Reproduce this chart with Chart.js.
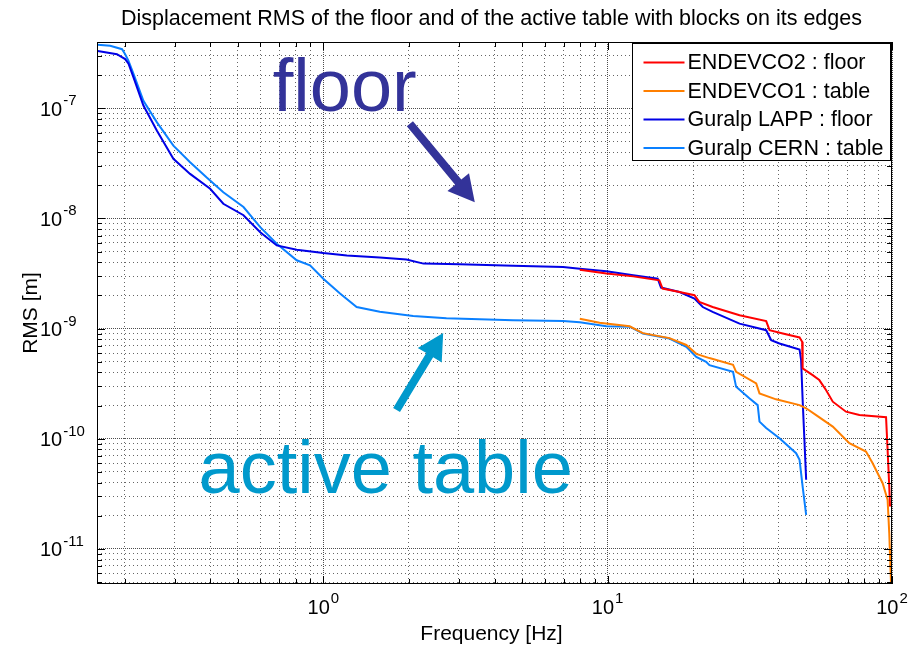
<!DOCTYPE html>
<html>
<head>
<meta charset="utf-8">
<script src="https://cdn.jsdelivr.net/npm/chart.js@4.4.0/dist/chart.umd.min.js"></script>
<style>
  html, body { margin: 0; padding: 0; background: #fff; }
</style>
</head>
<body>
<canvas id="rmsChart" width="913" height="645"></canvas>
<script>
// values: frequency [Hz] and displacement RMS [m]
var endevco2Freq = [7.98, 9.90, 12.3, 15.2, 15.6, 17.9, 20.2, 21.0, 23.4, 29.1, 36.1, 37.1, 41.3, 47.3, 48.3, 48.5, 52.6, 55.5, 58.6, 61.9, 68.9, 76.8, 95.3, 96.5, 97.8, 98.4];
var endevco2Rms = [3.43e-9, 3.16e-9, 2.98e-9, 2.74e-9, 2.31e-9, 2.15e-9, 2.01e-9, 1.75e-9, 1.57e-9, 1.32e-9, 1.17e-9, 9.67e-10, 9.03e-10, 8.31e-10, 7.58e-10, 4.35e-10, 3.78e-10, 3.41e-10, 2.77e-10, 2.17e-10, 1.76e-10, 1.64e-10, 1.57e-10, 7.92e-11, 3.68e-11, 2.43e-11];

var endevco1Freq = [7.98, 9.37, 11.95, 13.3, 16.5, 18.9, 20.5, 22.8, 27.6, 28.3, 33.3, 34.2, 39.1, 47.3, 49.9, 54.1, 61.9, 70.8, 81.0, 85.5, 92.7, 96.5, 97.8, 98.9, 99.2];
var endevco1Rms = [1.23e-9, 1.13e-9, 1.05e-9, 9.10e-10, 8.20e-10, 7.10e-10, 5.90e-10, 5.40e-10, 4.70e-10, 4.05e-10, 3.18e-10, 2.58e-10, 2.28e-10, 2.02e-10, 1.89e-10, 1.64e-10, 1.29e-10, 9.10e-11, 7.64e-11, 6.00e-11, 3.95e-11, 2.79e-11, 1.39e-11, 6.05e-12, 4.94e-12];

var lappFreq = [0.161, 0.188, 0.201, 0.2065, 0.215, 0.233, 0.260, 0.297, 0.340, 0.400, 0.445, 0.524, 0.600, 0.686, 0.806, 1.0, 1.21, 1.58, 1.96, 2.25, 3.02, 4.65, 6.97, 7.98, 9.90, 12.3, 15.0, 15.4, 17.9, 20.2, 21.6, 23.4, 29.1, 36.1, 37.6, 40.2, 47.3, 47.9, 48.5, 49.2, 49.9];
var lappRms = [3.32e-7, 3.10e-7, 2.80e-7, 2.54e-7, 1.91e-7, 1.06e-7, 6.27e-8, 3.48e-8, 2.54e-8, 1.86e-8, 1.36e-8, 1.07e-8, 7.51e-9, 5.69e-9, 5.21e-9, 4.85e-9, 4.62e-9, 4.41e-9, 4.23e-9, 3.89e-9, 3.83e-9, 3.73e-9, 3.62e-9, 3.50e-9, 3.31e-9, 3.05e-9, 2.84e-9, 2.36e-9, 2.15e-9, 1.87e-9, 1.57e-9, 1.42e-9, 1.11e-9, 9.67e-10, 7.85e-10, 7.33e-10, 6.47e-10, 5.17e-10, 2.25e-10, 9.75e-11, 4.24e-11];

var cernFreq = [0.161, 0.178, 0.196, 0.201, 0.2065, 0.215, 0.233, 0.260, 0.297, 0.340, 0.389, 0.445, 0.524, 0.600, 0.686, 0.806, 0.898, 1.0, 1.145, 1.31, 1.58, 2.07, 2.71, 4.65, 6.97, 7.98, 9.90, 11.95, 13.3, 16.5, 18.9, 20.5, 22.2, 22.8, 27.6, 28.3, 31.5, 33.7, 34.2, 36.1, 40.2, 46.0, 47.3, 48.5, 49.9];
var cernRms = [3.77e-7, 3.69e-7, 3.44e-7, 3.10e-7, 2.70e-7, 2.05e-7, 1.17e-7, 7.45e-8, 4.58e-8, 3.24e-8, 2.35e-8, 1.73e-8, 1.27e-8, 8.34e-9, 5.90e-9, 4.17e-9, 3.75e-9, 2.84e-9, 2.08e-9, 1.57e-9, 1.42e-9, 1.30e-9, 1.24e-9, 1.19e-9, 1.17e-9, 1.14e-9, 1.05e-9, 1.04e-9, 9.03e-10, 8.13e-10, 6.83e-10, 5.54e-10, 4.99e-10, 4.66e-10, 4.05e-10, 2.96e-10, 2.33e-10, 2.02e-10, 1.43e-10, 1.25e-10, 1.01e-10, 7.39e-11, 6.43e-11, 3.68e-11, 2.04e-11];

// grid / tick positions and decade labels
var xTickValues = [0.2, 0.3, 0.4, 0.5, 0.6, 0.7, 0.8, 0.9, 1, 2, 3, 4, 5, 6, 7, 8, 9, 10, 20, 30, 40, 50, 60, 70, 80, 90, 100];
var yTickValues = [5e-12, 6e-12, 7e-12, 8e-12, 9e-12, 1e-11, 2e-11, 3e-11, 4e-11, 5e-11, 6e-11, 7e-11, 8e-11, 9e-11,
  1e-10, 2e-10, 3e-10, 4e-10, 5e-10, 6e-10, 7e-10, 8e-10, 9e-10, 1e-9, 2e-9, 3e-9, 4e-9, 5e-9, 6e-9, 7e-9, 8e-9, 9e-9,
  1e-8, 2e-8, 3e-8, 4e-8, 5e-8, 6e-8, 7e-8, 8e-8, 9e-8, 1e-7, 2e-7, 3e-7];
var xLabelExponents = [0, 1, 2];
var yLabelExponents = [-11, -10, -9, -8, -7];

// text callouts and arrows (data coordinates)
var callouts = [
  { text: 'floor', color: '#333399', x: 0.664, y: 9.51e-8 },
  { text: 'active table', color: '#0099cc', x: 0.364, y: 3.23e-11 }
];
var arrows = [
  { color: '#333399', from: [2.016, 7.25e-8], to: [3.41, 1.405e-8] },
  { color: '#0099cc', from: [1.81, 1.824e-10], to: [2.64, 9.14e-10] }
];

var FONT = '"Liberation Sans", Arial, Helvetica, sans-serif';

function pts(fs, vs) {
  return fs.map(function (f, i) { return { x: f, y: vs[i] }; });
}

function isDecade(v) {
  var l = Math.log10(v);
  return Math.abs(l - Math.round(l)) < 1e-9;
}

function drawArrow(ctx, x1, y1, x2, y2, color) {
  var ang = Math.atan2(y2 - y1, x2 - x1);
  var headL = 26, headW = 28, shaft = 8;
  var bx = x2 - headL * Math.cos(ang), by = y2 - headL * Math.sin(ang);
  var nx = -Math.sin(ang), ny = Math.cos(ang);
  ctx.fillStyle = color;
  ctx.beginPath();
  ctx.moveTo(x1 + nx * shaft / 2, y1 + ny * shaft / 2);
  ctx.lineTo(bx + nx * shaft / 2, by + ny * shaft / 2);
  ctx.lineTo(bx + nx * headW / 2, by + ny * headW / 2);
  ctx.lineTo(x2, y2);
  ctx.lineTo(bx - nx * headW / 2, by - ny * headW / 2);
  ctx.lineTo(bx - nx * shaft / 2, by - ny * shaft / 2);
  ctx.lineTo(x1 - nx * shaft / 2, y1 - ny * shaft / 2);
  ctx.closePath();
  ctx.fill();
}

var matlabFrame = {
  id: 'matlabFrame',
  afterDatasetsDraw: function (chart) {
    var ctx = chart.ctx, xs = chart.scales.x, ys = chart.scales.y;
    ctx.save();
    callouts.forEach(function (c) {
      ctx.font = '74px ' + FONT;
      ctx.fillStyle = c.color;
      ctx.textAlign = 'left';
      ctx.textBaseline = 'alphabetic';
      ctx.fillText(c.text, xs.getPixelForValue(c.x), ys.getPixelForValue(c.y));
    });
    arrows.forEach(function (a) {
      drawArrow(ctx, xs.getPixelForValue(a.from[0]), ys.getPixelForValue(a.from[1]),
        xs.getPixelForValue(a.to[0]), ys.getPixelForValue(a.to[1]), a.color);
    });
    ctx.restore();
  },
  afterDraw: function (chart) {
    var ctx = chart.ctx, a = chart.chartArea, xs = chart.scales.x, ys = chart.scales.y;
    ctx.save();

    // axes box with inward ticks on all sides
    ctx.strokeStyle = '#000';
    ctx.lineWidth = 1;
    ctx.setLineDash([]);
    ctx.strokeRect(a.left + 0.5, a.top + 0.5, a.right - a.left - 1, a.bottom - a.top - 1);
    ctx.beginPath();
    xs.ticks.forEach(function (t) {
      var px = Math.round(xs.getPixelForValue(t.value)) + 0.5;
      var len = isDecade(t.value) ? 8 : 5;
      ctx.moveTo(px, a.bottom); ctx.lineTo(px, a.bottom - len);
      ctx.moveTo(px, a.top); ctx.lineTo(px, a.top + len);
    });
    ys.ticks.forEach(function (t) {
      var py = Math.round(ys.getPixelForValue(t.value)) + 0.5;
      var len = isDecade(t.value) ? 8 : 5;
      ctx.moveTo(a.left, py); ctx.lineTo(a.left + len, py);
      ctx.moveTo(a.right, py); ctx.lineTo(a.right - len, py);
    });
    ctx.stroke();

    // decade labels with superscript exponents
    ctx.fillStyle = '#000';
    ctx.textBaseline = 'alphabetic';
    ctx.textAlign = 'left';
    xLabelExponents.forEach(function (e) {
      var px = xs.getPixelForValue(Math.pow(10, e));
      ctx.font = '20px ' + FONT;
      var w10 = ctx.measureText('10').width;
      ctx.font = '15px ' + FONT;
      var we = ctx.measureText(String(e)).width;
      var x0 = px - (w10 + 1 + we) / 2;
      ctx.font = '20px ' + FONT;
      ctx.fillText('10', x0, a.bottom + 30);
      ctx.font = '15px ' + FONT;
      ctx.fillText(String(e), x0 + w10 + 1, a.bottom + 19);
    });
    yLabelExponents.forEach(function (e) {
      var py = ys.getPixelForValue(Math.pow(10, e));
      ctx.font = '20px ' + FONT;
      var w10 = ctx.measureText('10').width;
      ctx.fillText('10', 40, py + 7.5);
      ctx.font = '15px ' + FONT;
      ctx.fillText(String(e), 40 + w10 + 1, py - 3);
    });

    // title and axis labels
    var cx = (a.left + a.right) / 2, cy = (a.top + a.bottom) / 2;
    ctx.textAlign = 'center';
    ctx.font = '21.5px ' + FONT;
    ctx.fillText('Displacement RMS of the floor and of the active table with blocks on its edges', cx - 3, 25);
    ctx.font = '21px ' + FONT;
    ctx.fillText('Frequency [Hz]', cx - 3, a.bottom + 56);
    ctx.save();
    ctx.translate(37, cy);
    ctx.rotate(-Math.PI / 2);
    ctx.fillText('RMS [m]', 0, 0);
    ctx.restore();

    // legend box
    var lx = 632.5, ly = 43.5, lw = 258, lh = 117;
    ctx.fillStyle = '#fff';
    ctx.fillRect(lx, ly, lw, lh);
    ctx.strokeStyle = '#000';
    ctx.strokeRect(lx, ly, lw, lh);
    ctx.textAlign = 'left';
    ctx.textBaseline = 'middle';
    ctx.font = '21.5px ' + FONT;
    chart.data.datasets.forEach(function (ds, i) {
      var ry = ly + 19 + i * 28.5;
      ctx.strokeStyle = ds.borderColor;
      ctx.lineWidth = 2;
      ctx.beginPath();
      ctx.moveTo(lx + 11, ry); ctx.lineTo(lx + 52, ry);
      ctx.stroke();
      ctx.fillStyle = '#000';
      ctx.fillText(ds.label, lx + 55, ry + 1);
    });
    ctx.restore();
  }
};

function gridDash(c) {
  return (c.tick && isDecade(c.tick.value)) ? [1, 1] : [1, 3];
}
function gridColor(c) {
  return (c.tick && isDecade(c.tick.value)) ? 'rgba(0,0,0,0.7)' : 'rgba(0,0,0,0.6)';
}

var ctx = document.getElementById('rmsChart').getContext('2d');
var chart = new Chart(ctx, {
  type: 'line',
  data: {
    datasets: [{
      label: 'ENDEVCO2 : floor',
      data: pts(endevco2Freq, endevco2Rms),
      borderColor: '#ff0000'
    }, {
      label: 'ENDEVCO1 : table',
      data: pts(endevco1Freq, endevco1Rms),
      borderColor: '#ff7f00'
    }, {
      label: 'Guralp LAPP : floor',
      data: pts(lappFreq, lappRms),
      borderColor: '#0000e6'
    }, {
      label: 'Guralp CERN : table',
      data: pts(cernFreq, cernRms),
      borderColor: '#0a80ff'
    }]
  },
  options: {
    responsive: false,
    animation: false,
    events: [],
    layout: { padding: { left: 97, right: 21, top: 42, bottom: 61 } },
    elements: {
      line: { borderWidth: 2, tension: 0, fill: false },
      point: { radius: 0 }
    },
    plugins: {
      legend: { display: false },
      title: { display: false },
      tooltip: { enabled: false }
    },
    scales: {
      x: {
        type: 'logarithmic',
        min: 0.16,
        max: 100,
        afterBuildTicks: function (scale) {
          scale.ticks = xTickValues.map(function (v) { return { value: v }; });
        },
        ticks: { display: false },
        grid: { drawTicks: false, color: gridColor, lineWidth: 1 },
        border: { display: false, dash: gridDash }
      },
      y: {
        type: 'logarithmic',
        min: 4.8e-12,
        max: 4e-7,
        afterBuildTicks: function (scale) {
          scale.ticks = yTickValues.map(function (v) { return { value: v }; });
        },
        ticks: { display: false },
        grid: { drawTicks: false, color: gridColor, lineWidth: 1 },
        border: { display: false, dash: gridDash }
      }
    }
  },
  plugins: [matlabFrame]
});
</script>
</body>
</html>
